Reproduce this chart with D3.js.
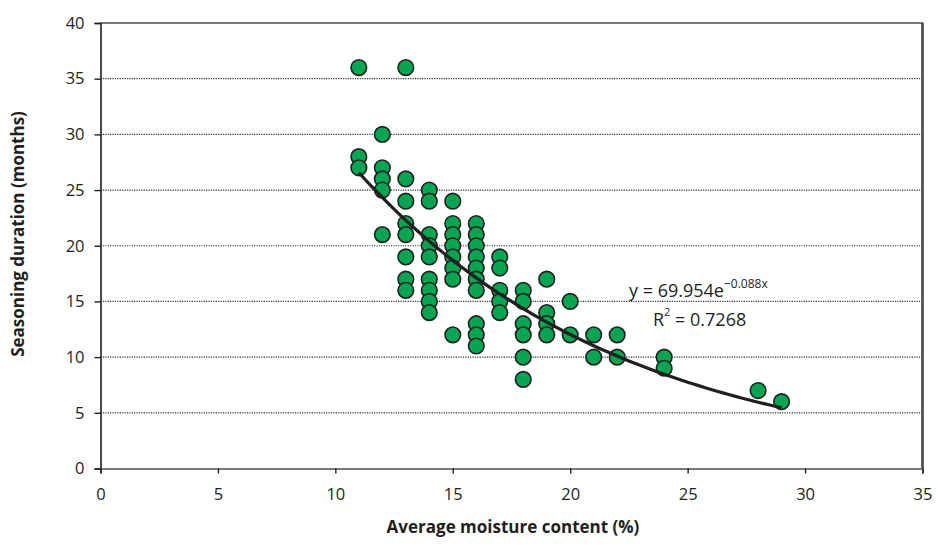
<!DOCTYPE html>
<html lang="en">
<head>
<meta charset="UTF-8">
<script src="https://d3js.org/d3.v7.min.js"></script>
<style>
  body { margin:0; background:#fff; font-family:"Open Sans", sans-serif; }
  .tick text { font-family:"Open Sans", sans-serif; font-size:16.5px; fill:#231f20; }
  .axis-title { font-family:"Open Sans", sans-serif; font-weight:bold; font-size:17px; fill:#231f20; }
  .grid line { stroke:#333; stroke-width:1.2; stroke-dasharray:1.2,1.2; }
  .dot { fill:#00a650; stroke:#231f20; stroke-width:1.6; }
  .trend { fill:none; stroke:#231f20; stroke-width:3.2; }
  .eq { font-family:"Open Sans", sans-serif; font-size:18px; fill:#231f20; }
</style>
</head>
<body>
<svg id="chart" width="938" height="547"></svg>
<script>
// moisture content (%) and seasoning duration (months), one entry per point
const moisture = [
  11, 11, 11,
  12, 12, 12, 12, 12,
  13, 13, 13, 13, 13, 13, 13, 13,
  14, 14, 14, 14, 14, 14, 14, 14, 14,
  15, 15, 15, 15, 15, 15, 15, 15,
  16, 16, 16, 16, 16, 16, 16, 16, 16, 16,
  17, 17, 17, 17, 17,
  18, 18, 18, 18, 18, 18,
  19, 19, 19, 19,
  20, 20,
  21, 21,
  22, 22,
  24, 24,
  28,
  29
];
const duration = [
  36, 28, 27,
  30, 27, 26, 25, 21,
  36, 26, 24, 22, 21, 19, 17, 16,
  25, 24, 21, 20, 19, 17, 16, 15, 14,
  24, 22, 21, 20, 19, 18, 17, 12,
  22, 21, 20, 19, 18, 17, 16, 13, 12, 11,
  19, 18, 16, 15, 14,
  16, 15, 13, 12, 10, 8,
  17, 14, 13, 12,
  15, 12,
  12, 10,
  12, 10,
  10, 9,
  7,
  6
];
const xTicks = [0, 5, 10, 15, 20, 25, 30, 35];
const yTicks = [0, 5, 10, 15, 20, 25, 30, 35, 40];
// exponential trendline as printed on the chart
const trendA = 69.954, trendB = -0.088;
const trendRange = [11, 29];

const svg = d3.select("#chart");
const margin = { top: 23, right: 15.5, bottom: 78.5, left: 100.5 };
const width = 938 - margin.left - margin.right;
const height = 547 - margin.top - margin.bottom;

const g = svg.append("g").attr("transform", "translate(" + margin.left + "," + margin.top + ")");

const x = d3.scaleLinear().domain([0, 35]).range([0, width]);
const y = d3.scaleLinear().domain([0, 40]).range([height, 0]);

// dotted gridlines
g.append("g").attr("class", "grid")
  .selectAll("line").data(yTicks.filter(d => d > 0 && d < 40)).enter()
  .append("line")
  .attr("x1", 0).attr("x2", width)
  .attr("y1", d => y(d)).attr("y2", d => y(d));

// plot border (top / right)
g.append("path")
  .attr("d", "M0," + y(40) + "H" + x(35) + "V" + y(0))
  .attr("fill", "none").attr("stroke", "#4d4d4d").attr("stroke-width", 1.6);
g.append("line")
  .attr("x1", x(35)).attr("x2", x(35)).attr("y1", y(40)).attr("y2", y(0))
  .attr("stroke", "#4d4d4d").attr("stroke-width", 2.6);

const xAxis = g.append("g")
  .attr("transform", "translate(0," + height + ")")
  .call(d3.axisBottom(x).tickValues(xTicks).tickSize(5).tickPadding(15));
xAxis.select(".domain").attr("stroke", "#4d4d4d").attr("stroke-width", 1.6);
xAxis.selectAll(".tick line").attr("stroke", "#231f20").attr("stroke-width", 1.4);

const yAxis = g.append("g")
  .call(d3.axisLeft(y).tickValues(yTicks).tickSize(6).tickPadding(10));
yAxis.select(".domain").attr("stroke", "#231f20").attr("stroke-width", 1.6);
yAxis.selectAll(".tick line").attr("stroke", "#231f20").attr("stroke-width", 1.4);

// points
g.selectAll(".dot").data(moisture).enter()
  .append("circle")
  .attr("class", "dot")
  .attr("r", 7.8)
  .attr("cx", d => x(d))
  .attr("cy", (d, i) => y(duration[i]));

// trendline
const trendX = d3.range(trendRange[0], trendRange[1] + 0.001, 0.25);
g.append("path")
  .datum(trendX)
  .attr("class", "trend")
  .attr("d", d3.line().x(d => x(d)).y(d => y(trendA * Math.exp(trendB * d))));

// equation labels
const eq = svg.append("text").attr("class", "eq").attr("x", 629).attr("y", 297);
eq.append("tspan").text("y = 69.954e");
eq.append("tspan").attr("dy", -9).attr("font-size", 12).text("\u22120.088x");

const r2 = svg.append("text").attr("class", "eq").attr("x", 653).attr("y", 326);
r2.append("tspan").text("R");
r2.append("tspan").attr("dy", -10).attr("font-size", 11).text("2");
r2.append("tspan").attr("dy", 10).text(" = 0.7268");

// axis titles
svg.append("text").attr("class", "axis-title")
  .attr("x", 513).attr("y", 533)
  .attr("text-anchor", "middle")
  .text("Average moisture content (%)");

svg.append("text").attr("class", "axis-title")
  .attr("transform", "translate(24," + 234 + ") rotate(-90)")
  .attr("text-anchor", "middle")
  .text("Seasoning duration (months)");
</script>
</body>
</html>
